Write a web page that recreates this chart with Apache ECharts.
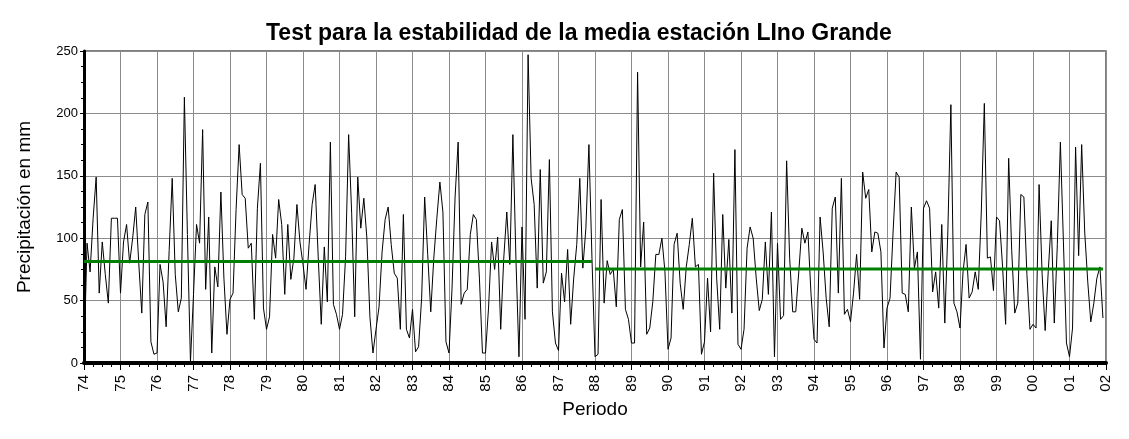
<!DOCTYPE html>
<html>
<head>
<meta charset="utf-8">
<script src="https://cdn.jsdelivr.net/npm/echarts@6/dist/echarts.min.js"></script>
<style>
html,body{margin:0;padding:0;background:#fff;}
#chart{width:1129px;height:439px;}
</style>
</head>
<body>
<div id="chart"></div>
<script>
// ---- data ----
const chartTitle = 'Test para la estabilidad de la media estación LIno Grande';
const yAxisTitle = 'Precipitación en mm';
const xAxisTitle = 'Periodo';
const startYear = 1974;
const endYear = 2002;
const xTickLabels = ['74','75','76','77','78','79','80','81','82','83','84','85','86','87','88','89','90','91','92','93','94','95','96','97','98','99','00','01','02'];

// monthly precipitation, Jan 1974 - Dec 1987
const precipPeriod1 = [
  4, 96, 73, 116, 149, 56, 97, 71, 48, 116, 116, 116,
  56, 97, 111, 80, 100, 125, 80, 40, 119, 129, 17, 7,
  8, 79, 65, 29, 90, 148, 71, 41, 52, 213, 103, 1,
  55, 111, 96, 187, 59, 117, 8, 77, 61, 137, 68, 23,
  51, 56, 123, 175, 135, 132, 92, 96, 35, 124, 160, 44,
  27, 37, 103, 84, 131, 111, 55, 111, 67, 84, 127, 97,
  79, 59, 95, 127, 143, 85, 31, 93, 49, 177, 47, 39,
  27, 39, 85, 183, 120, 37, 149, 108, 132, 100, 37, 8,
  27, 45, 89, 115, 125, 95, 72, 68, 27, 119, 27, 20,
  43, 9, 13, 52, 133, 87, 41, 84, 116, 145, 121, 17,
  8, 60, 133, 177, 47, 56, 59, 103, 119, 115, 68, 8,
  8, 44, 97, 75, 101, 27, 84, 121, 79, 183, 84, 5,
  109, 35, 247, 148, 127, 60, 155, 64, 73, 163, 41, 16,
  10, 72, 49, 91, 31, 68, 95, 148, 76, 108, 175, 84
];
// monthly precipitation, Jan 1988 - Dec 2001
const precipPeriod2 = [
  5, 7, 131, 48, 82, 71, 75, 45, 115, 123, 43, 35,
  16, 16, 233, 77, 113, 23, 28, 49, 87, 87, 100, 73,
  11, 20, 95, 104, 64, 43, 77, 95, 116, 77, 79, 7,
  17, 68, 25, 152, 68, 27, 119, 60, 99, 40, 171, 15,
  11, 27, 92, 109, 100, 68, 42, 51, 97, 55, 121, 5,
  96, 35, 38, 162, 84, 41, 41, 73, 108, 96, 105, 56,
  19, 16, 117, 89, 52, 29, 124, 133, 56, 148, 39, 43,
  33, 56, 87, 51, 153, 132, 139, 89, 105, 104, 89, 12,
  44, 52, 105, 153, 149, 56, 55, 41, 125, 76, 89, 3,
  124, 130, 124, 57, 73, 44, 111, 32, 105, 207, 48, 41,
  28, 73, 95, 52, 57, 73, 59, 121, 208, 84, 85, 58,
  117, 114, 77, 31, 164, 90, 40, 48, 135, 133, 71, 27,
  31, 28, 143, 71, 26, 73, 114, 32, 95, 177, 97, 16,
  5, 28, 173, 86, 175, 105, 65, 33, 48, 68, 77, 36
];
// mean level of each period (green lines)
const periodMeans = [81.4, 75.4];

// ---- build series ----
const allPrecip = precipPeriod1.concat(precipPeriod2);
const monthPoints = allPrecip.map((v, i) => [startYear + i / 12, v]);
const n1 = precipPeriod1.length;
const meanLine1 = [[startYear, periodMeans[0]], [startYear + (n1 - 1) / 12, periodMeans[0]]];
const meanLine2 = [[startYear + n1 / 12, periodMeans[1]], [startYear + (allPrecip.length - 1) / 12, periodMeans[1]]];

const chart = echarts.init(document.getElementById('chart'), null, {renderer: 'canvas'});
const font = "'Liberation Sans', Arial, sans-serif";
chart.setOption({
  animation: false,
  backgroundColor: '#ffffff',
  title: {
    text: chartTitle,
    left: 261,
    top: 17,
    textStyle: {fontFamily: font, fontSize: 23, fontWeight: 'bold', color: '#000'}
  },
  grid: {
    left: 84, right: 23, top: 51, bottom: 76,
    show: true, borderColor: '#555', borderWidth: 1.5, backgroundColor: 'transparent'
  },
  xAxis: {
    type: 'value',
    min: startYear, max: endYear, interval: 1,
    name: xAxisTitle,
    nameLocation: 'middle',
    nameGap: 37,
    nameTextStyle: {fontFamily: font, fontSize: 19, color: '#000'},
    axisLine: {show: true, onZero: false, lineStyle: {color: '#000', width: 4}},
    axisTick: {show: true, length: 7, lineStyle: {color: '#000', width: 1}},
    minorTick: {show: true, splitNumber: 4, length: 4, lineStyle: {color: '#000', width: 1}},
    splitLine: {show: true, lineStyle: {color: '#8c8c8c', width: 1}},
    axisLabel: {
      rotate: 90, margin: 12,
      fontFamily: font, fontSize: 15, color: '#000',
      formatter: v => xTickLabels[Math.round(v - startYear)]
    }
  },
  yAxis: {
    type: 'value',
    min: 0, max: 250, interval: 50,
    name: yAxisTitle,
    nameLocation: 'middle',
    nameGap: 50,
    nameTextStyle: {fontFamily: font, fontSize: 19, color: '#000'},
    axisLine: {show: true, onZero: false, lineStyle: {color: '#000', width: 3}},
    axisTick: {show: true, length: 4, lineStyle: {color: '#000', width: 1}},
    minorTick: {show: true, splitNumber: 4, length: 3, lineStyle: {color: '#000', width: 1}},
    splitLine: {show: true, lineStyle: {color: '#8c8c8c', width: 1}},
    axisLabel: {margin: 6, fontFamily: font, fontSize: 13, color: '#000'}
  },
  series: [
    {
      type: 'line', data: monthPoints, showSymbol: false, symbol: 'none',
      lineStyle: {color: '#000', width: 1}, z: 3
    },
    {
      type: 'line', data: meanLine1, showSymbol: false, symbol: 'none',
      lineStyle: {color: '#008000', width: 3}, z: 4
    },
    {
      type: 'line', data: meanLine2, showSymbol: false, symbol: 'none',
      lineStyle: {color: '#008000', width: 3}, z: 4
    }
  ]
});
</script>
</body>
</html>
